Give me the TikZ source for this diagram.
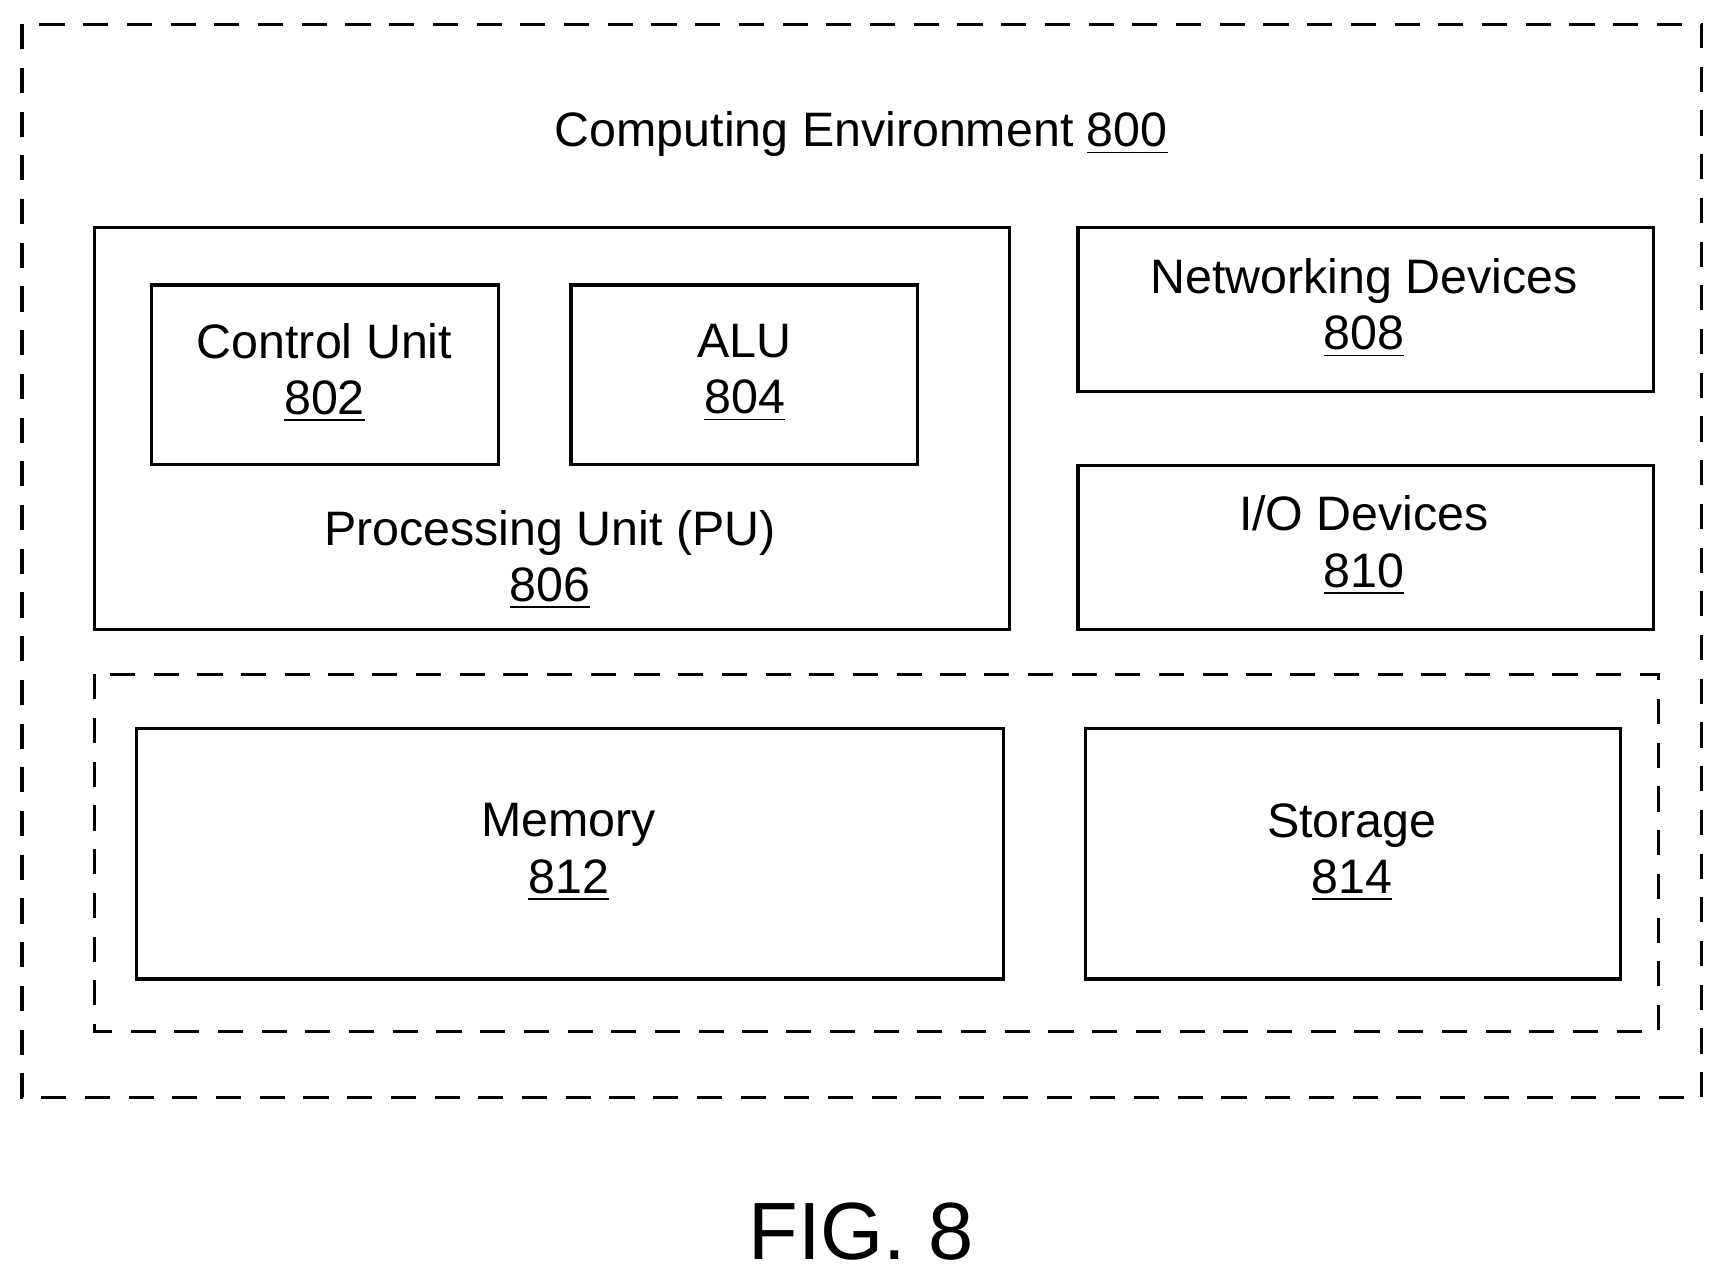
\documentclass[tikz,border=0pt]{standalone}
\usepackage{fontspec}
\setmainfont{Liberation Sans}
\usetikzlibrary{positioning}

\begin{document}
\begin{tikzpicture}[x=0.01cm, y=-0.01cm,
    box/.style={draw, line width=0.85pt},
    dbox/.style={draw, line width=0.85pt, dash pattern=on 6.5pt off 4.8pt},
    lbl/.style={align=center, font=\fontsize{12.5}{14.5}\selectfont}]
    \useasboundingbox (0,0) rectangle (1560,1158);
    % outer environment
    \draw[dbox] (20,22) rectangle (1547,998);
    \node[lbl] (env) at (783,122) {Computing Environment \underline{800}};
    
    % processing unit
    \draw[box] (86,207) rectangle (918,572);
    \draw[box] (138,259) rectangle (453,422);
    \node[lbl] (cu) at (295,339) {Control Unit\\\underline{802}};
    \draw[box] (519,259) rectangle (834,422);
    \node[lbl] (alu) at (677,339) {ALU\\\underline{804}};
    \node[lbl] (pu) at (500,509) {Processing Unit (PU)\\\underline{806}};
    
    % devices
    \draw[box] (980,207) rectangle (1503,356);
    \node[lbl] (net) at (1240,280) {Networking Devices\\\underline{808}};
    \draw[box] (980,423) rectangle (1503,572);
    \node[lbl] (io) at (1240,496) {I/O Devices\\\underline{810}};
    
    % memory and storage
    \draw[dbox] (86,613) rectangle (1508,938);
    \draw[box] (124,662) rectangle (912,890);
    \node[lbl] (mem) at (517,775) {Memory\\\underline{812}};
    \draw[box] (987,662) rectangle (1473,890);
    \node[lbl] (sto) at (1229,775) {Storage\\\underline{814}};
    
    \node[font=\fontsize{21}{24}\selectfont] (fig) at (783,1120) {FIG. 8};
\end{tikzpicture}
\end{document}
